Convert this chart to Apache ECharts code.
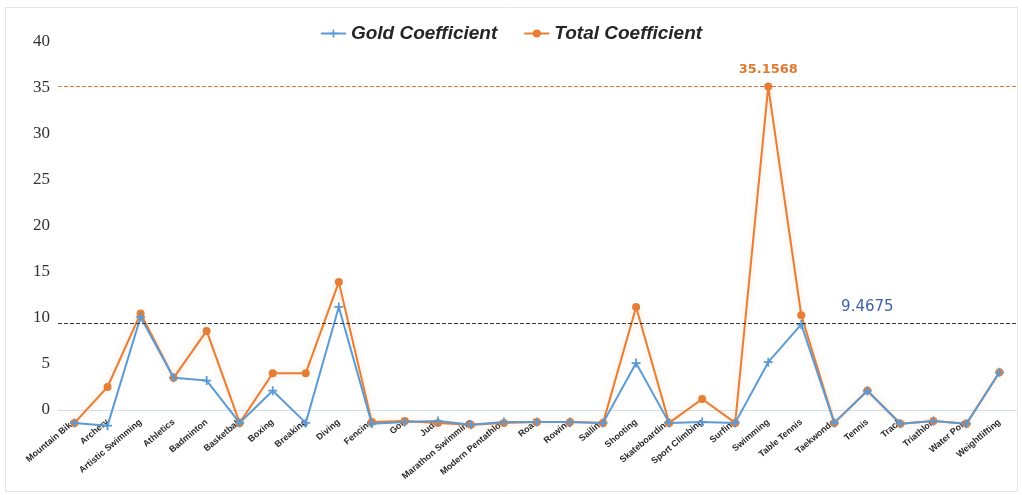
<!DOCTYPE html>
<html>
<head>
<meta charset="utf-8">
<script src="https://cdn.jsdelivr.net/npm/echarts@6/dist/echarts.min.js"></script>
<style>
  html, body { margin: 0; padding: 0; background: #ffffff; }
  #chart { width: 1022px; height: 495px; }
</style>
</head>
<body>
<div id="chart"></div>
<script>
// Olympic sports on the x axis
const sports = [
  'Mountain Bike', 'Archery', 'Artistic Swimming', 'Athletics', 'Badminton',
  'Basketball', 'Boxing', 'Breaking', 'Diving', 'Fencing', 'Golf', 'Judo',
  'Marathon Swimming', 'Modern Pentathlon', 'Road', 'Rowing', 'Sailing',
  'Shooting', 'Skateboarding', 'Sport Climbing', 'Surfing', 'Swimming',
  'Table Tennis', 'Taekwondo', 'Tennis', 'Track', 'Triathlon', 'Water Polo',
  'Weightlifting'
];

// Gold-medal coefficient per sport
const goldCoefficient = [
  -1.4, -1.7, 10.1, 3.5, 3.2, -1.4, 2.1, -1.4, 11.2, -1.5, -1.3, -1.2,
  -1.6, -1.3, -1.3, -1.3, -1.4, 5.1, -1.4, -1.3, -1.4, 5.2,
  9.3, -1.4, 2.1, -1.5, -1.2, -1.5, 4.1
];

// Total-medal coefficient per sport
const totalCoefficient = [
  -1.4, 2.5, 10.5, 3.5, 8.6, -1.4, 4.0, 4.0, 13.9, -1.3, -1.2, -1.4,
  -1.6, -1.4, -1.3, -1.3, -1.4, 11.2, -1.4, 1.2, -1.4, 35.1568,
  10.3, -1.4, 2.1, -1.5, -1.2, -1.5, 4.1
];

// Reference levels drawn as dashed lines
const goldReference = 9.4675;
const totalReference = 35.1568;

// Value axis ticks
const yTicks = [0, 5, 10, 15, 20, 25, 30, 35, 40];

const BLUE = '#5b9bd5';
const ORANGE = '#e67e35';
const PLUS = 'path://M4,0h2v4h4v2h-4v4h-2v-4h-4v-2h4z';

const chart = echarts.init(document.getElementById('chart'));

chart.setOption({
  backgroundColor: '#ffffff',
  animation: false,
  graphic: [{
    type: 'rect',
    left: 3, top: 5,
    shape: { width: 1012, height: 484 },
    style: { fill: 'none', stroke: '#e4e4e4', lineWidth: 1 },
    z: -1
  }],
  legend: {
    top: 19,
    left: 'center',
    itemGap: 26,
    itemWidth: 25,
    itemHeight: 10,
    data: ['Gold Coefficient', 'Total Coefficient'],
    textStyle: {
      fontFamily: 'Liberation Sans',
      fontStyle: 'italic',
      fontWeight: 'bold',
      fontSize: 19,
      color: '#262626'
    }
  },
  grid: { left: 58, right: 6, top: 42, bottom: 39, outerBoundsMode: 'none' },
  xAxis: {
    type: 'category',
    data: sports,
    boundaryGap: true,
    axisLine: { onZero: true, lineStyle: { color: '#cfe0f0', width: 1 } },
    axisTick: { show: false },
    axisLabel: {
      interval: 0,
      rotate: 40,
      margin: -35,
      fontFamily: 'Liberation Sans',
      fontWeight: 'bold',
      fontSize: 9,
      color: '#2a2a2a'
    },
    splitLine: { show: false }
  },
  yAxis: {
    type: 'value',
    min: -5,
    max: 40,
    interval: 5,
    axisLine: { show: false },
    axisTick: { show: false },
    splitLine: { show: false },
    axisLabel: {
      margin: 8,
      fontFamily: 'Liberation Serif',
      fontSize: 17,
      color: '#333333',
      formatter: v => (yTicks.indexOf(v) >= 0 ? String(v) : '')
    }
  },
  series: [
    {
      name: 'Gold Coefficient',
      type: 'line',
      data: goldCoefficient,
      symbol: PLUS,
      symbolSize: 9,
      z: 3,
      lineStyle: { color: BLUE, width: 2 },
      itemStyle: { color: BLUE, borderWidth: 0 },
      markLine: {
        silent: true,
        symbol: 'none',
        label: { show: false },
        lineStyle: { color: '#3a3a3a', type: 'dashed', width: 1 },
        data: [{ yAxis: goldReference }]
      },
      markPoint: {
        silent: true,
        symbol: 'circle',
        symbolSize: 0,
        label: {
          show: true,
          position: 'top',
          distance: 8,
          fontFamily: 'DejaVu Sans',
          fontSize: 15,
          color: '#3f62ad',
          formatter: () => String(goldReference)
        },
        data: [{ coord: ['Tennis', goldReference] }]
      }
    },
    {
      name: 'Total Coefficient',
      type: 'line',
      data: totalCoefficient,
      symbol: 'circle',
      symbolSize: 8,
      z: 2,
      lineStyle: {
        color: ORANGE, width: 2,
        shadowColor: 'rgba(240,150,80,0.35)', shadowBlur: 6
      },
      itemStyle: { color: ORANGE, borderWidth: 0 },
      markLine: {
        silent: true,
        symbol: 'none',
        label: { show: false },
        lineStyle: { color: '#e8772e', type: 'dashed', width: 1, opacity: 1 },
        data: [{ yAxis: totalReference }]
      },
      markPoint: {
        silent: true,
        symbol: 'circle',
        symbolSize: 0,
        label: {
          show: true,
          position: 'top',
          distance: 10,
          fontFamily: 'DejaVu Sans',
          fontWeight: 'bold',
          fontSize: 13,
          color: '#e07a30',
          formatter: p => String(p.value)
        },
        data: [{ type: 'max', valueDim: 'y' }]
      }
    }
  ]
});
</script>
</body>
</html>
